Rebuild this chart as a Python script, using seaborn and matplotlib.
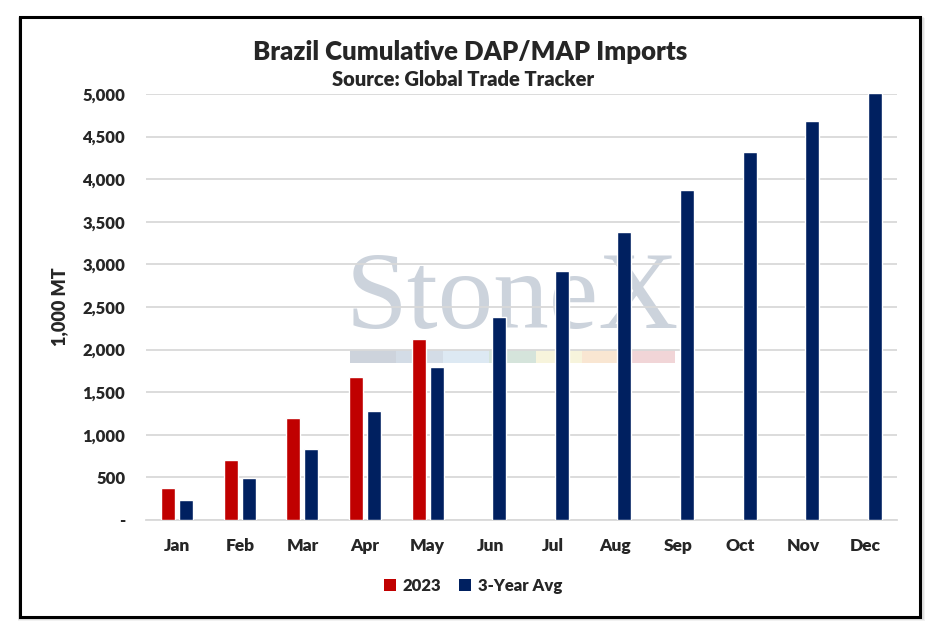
import numpy as np
import pandas as pd
import matplotlib
matplotlib.use("Agg")
import matplotlib.pyplot as plt
import seaborn as sns
from matplotlib.patches import Rectangle, Patch
from matplotlib.ticker import FuncFormatter

months = ["Jan", "Feb", "Mar", "Apr", "May", "Jun",
          "Jul", "Aug", "Sep", "Oct", "Nov", "Dec"]
imports_2023 = [380, 710, 1192, 1674, 2121,
                np.nan, np.nan, np.nan, np.nan, np.nan, np.nan, np.nan]
imports_avg = [239, 498, 839, 1274, 1792, 2380, 2921, 3380, 3874, 4321, 4686, 5010]
series_names = ["2023", "3-Year Avg"]
series_colors = ["#C00000", "#002060"]
y_ticks = [0, 500, 1000, 1500, 2000, 2500, 3000, 3500, 4000, 4500, 5000]

df = pd.DataFrame({
    "Month": months * 2,
    "Series": [series_names[0]] * 12 + [series_names[1]] * 12,
    "Value": imports_2023 + imports_avg,
})

sns.set_style("white")
plt.rcParams["font.family"] = ["Lato", "DejaVu Sans"]
plt.rcParams["font.weight"] = "heavy"
W = "heavy"

fig = plt.figure(figsize=(9.4, 6.34), dpi=100)

# outer frame with a soft shadow
for i, a in enumerate([0.10, 0.14, 0.20, 0.28]):
    off = (4 - i) / 940
    fig.patches.append(Rectangle((20 / 940 - off * 0.6, 17 / 634 - off * 1.6),
                                 900 / 940 + off * 1.8, 600 / 634 + off * 1.4,
                                 transform=fig.transFigure, facecolor="#7F7F7F",
                                 edgecolor="none", alpha=a, zorder=-5))
fig.patches.append(Rectangle((20 / 940, 17 / 634), 900 / 940, 600 / 634,
                             transform=fig.transFigure, facecolor="white",
                             edgecolor="black", linewidth=2.2, zorder=-4))

# StoneX watermark
fig.text(512 / 940, 1 - 328 / 634, "StoneX", family="Liberation Serif",
         fontsize=80, fontweight="normal", color="#CCD3DC", ha="center",
         va="baseline", zorder=-3)
strip = ["#CDD3DC", "#D3DCE6", "#DDE9F3", "#D5E4DB", "#F7F4DC", "#F9E6D2", "#F1D5D7"]
for i, c in enumerate(strip):
    fig.patches.append(Rectangle(((350 + i * 46.4) / 940, 1 - 363 / 634), 46.4 / 940, 13 / 634,
                                 transform=fig.transFigure, facecolor=c,
                                 edgecolor="none", zorder=-3))

ax = fig.add_axes([146 / 940, 114 / 634, 751 / 940, 426 / 634])
ax.patch.set_alpha(0)

sns.barplot(data=df, x="Month", y="Value", hue="Series", order=months,
            hue_order=series_names, palette=series_colors, width=0.575,
            gap=0.22, errorbar=None, saturation=1, ax=ax, zorder=3, legend=False)

ax.set_ylim(0, 5000)
ax.set_xlim(-0.5, 11.5)
ax.set_yticks(y_ticks)
ax.yaxis.set_major_formatter(FuncFormatter(lambda v, p: "-" if v == 0 else f"{int(v):,}"))
ax.grid(axis="y", color="#D9D9D9", linewidth=1.3, zorder=0)
ax.set_axisbelow(True)
for s in ["top", "right", "left"]:
    ax.spines[s].set_visible(False)
ax.spines["bottom"].set_color("#D9D9D9")
ax.spines["bottom"].set_linewidth(1.3)
ax.tick_params(axis="y", length=0, pad=15, labelsize=12)
ax.tick_params(axis="x", length=0, pad=13, labelsize=12.5)
for lab in ax.get_xticklabels() + ax.get_yticklabels():
    lab.set_fontweight(W)
ax.set_xlabel("")
ax.set_ylabel("1,000 MT", fontsize=13, fontweight=W)
ax.yaxis.set_label_coords(-0.104, 0.5)

fig.text(470 / 940, 1 - 52 / 634, "Brazil Cumulative DAP/MAP Imports",
         fontsize=18.5, fontweight=W, ha="center", va="center")
fig.text(463 / 940, 1 - 80 / 634, "Source: Global Trade Tracker",
         fontsize=14.5, fontweight=W, ha="center", va="center")

handles = [Patch(facecolor=c, edgecolor="none") for c in series_colors]
fig.legend(handles, series_names, loc="center", bbox_to_anchor=(473 / 940, 1 - 586 / 634),
           ncol=2, frameon=False, prop={"size": 12, "weight": W}, handlelength=0.7,
           handleheight=0.7, handletextpad=0.4, columnspacing=1.1)

fig.savefig("out.png", dpi=100)
